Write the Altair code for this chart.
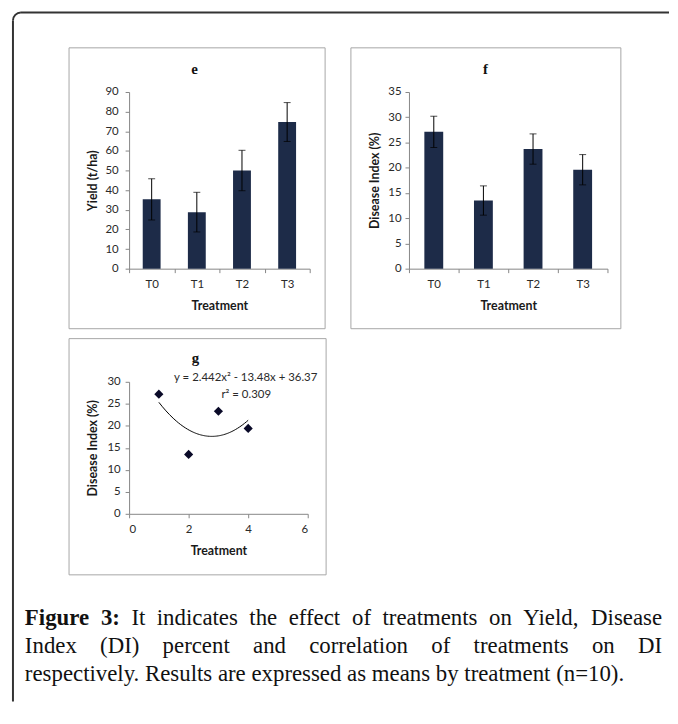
import altair as alt
import pandas as pd

# ---------------- data ----------------
treatments = ["T0", "T1", "T2", "T3"]
yield_mean = [35.3, 28.8, 50.0, 74.7]
yield_err = [10.5, 10.1, 10.3, 9.9]
di_mean = [27.1, 13.5, 23.7, 19.6]
di_err = [3.1, 2.9, 3.0, 3.0]
g_x = [1, 2, 3, 4]
g_y = [27.2, 13.5, 23.3, 19.4]
yield_ticks = [0, 10, 20, 30, 40, 50, 60, 70, 80, 90]
di_ticks = [0, 5, 10, 15, 20, 25, 30, 35]
g_y_ticks = [0, 5, 10, 15, 20, 25, 30]
g_x_ticks = [0, 2, 4, 6]
panel_titles = ["e", "f", "g"]
fit_text = ["y = 2.442x² - 13.48x + 36.37", "r² = 0.309"]
caption_line1 = [("Figure", True), ("3:", True), ("It", False), ("indicates", False),
                 ("the", False), ("effect", False), ("of", False), ("treatments", False),
                 ("on", False), ("Yield,", False), ("Disease", False)]
caption_line2 = ["Index", "(DI)", "percent", "and", "correlation", "of", "treatments", "on", "DI"]
caption_line3 = "respectively. Results are expressed as means by treatment (n=10)."

# ---------------- style ----------------
FONT = "Lato"
SERIF = "Liberation Serif"
BAR = "#1d2b48"
AXC = "#868686"
LAB = "#2a2a2a"
BOXC = "#a6a6a6"
one = pd.DataFrame({"k": [0]})

# origins of each panel's plot area in page pixels
E0 = (130, 90)
F0 = (412, 90)
G0 = (130, 382)
C0 = (412, 382)


def axis_common(**kw):
    base = dict(grid=False, domainColor=AXC, tickColor=AXC, tickSize=4,
                labelFont=FONT, labelFontSize=11.5, labelColor=LAB,
                titleFont=FONT, titleFontSize=12.5, titleFontWeight="bold",
                titleColor="#1a1a1a", titleBaseline="middle")
    base.update(kw)
    return alt.Axis(**base)


def box_layer(x1, y1, x2, y2):
    return alt.Chart(one).mark_rect(fillOpacity=0, stroke=BOXC, strokeWidth=1).encode(
        x=alt.value(x1), x2=alt.value(x2), y=alt.value(y1), y2=alt.value(y2))


def title_layer(txt, x, y):
    return alt.Chart(one).mark_text(text=txt, font=SERIF, fontSize=15, fontWeight="bold",
                                    color="#111111", baseline="middle").encode(
        x=alt.value(x), y=alt.value(y))


def bar_panel(values, errs, ticks, ytitle, width, height, bar_w, ylab_pad, ytitle_x,
              title, title_xy, box):
    df = pd.DataFrame({"t": treatments, "v": values, "e": errs})
    base = alt.Chart(df).transform_calculate(lo="datum.v - datum.e", hi="datum.v + datum.e")
    xs = alt.Scale(paddingInner=0, paddingOuter=0)
    xax = axis_common(title="Treatment", tickBand="extent", labelAngle=0,
                      labelPadding=6, titleY=37)
    ys = alt.Scale(domain=[ticks[0], ticks[-1]], nice=False, zero=True)
    yax = axis_common(values=ticks, title=ytitle, labelPadding=ylab_pad,
                      titleX=ytitle_x, titleY=height / 2)
    x_main = alt.X("t:N", sort=treatments, scale=xs, axis=xax, title="Treatment")
    bars = base.mark_bar(width=bar_w, color=BAR).encode(
        x=x_main, y=alt.Y("v:Q", scale=ys, axis=yax, title=ytitle))
    rule = base.mark_rule(color="black", strokeWidth=1).encode(
        x=x_main, y=alt.Y("lo:Q", scale=ys, axis=yax, title=ytitle), y2="hi:Q")
    cap_lo = base.mark_tick(color="black", size=7, thickness=1).encode(
        x=x_main, y=alt.Y("lo:Q", scale=ys, axis=yax, title=ytitle))
    cap_hi = base.mark_tick(color="black", size=7, thickness=1).encode(
        x=x_main, y=alt.Y("hi:Q", scale=ys, axis=yax, title=ytitle))
    return alt.layer(bars, rule, cap_lo, cap_hi, box_layer(*box),
                     title_layer(title, *title_xy)).properties(width=width, height=height)


def rel(p, o):
    return (p[0] - o[0], p[1] - o[1])


# panel e
e_box = (69 - E0[0] + 0.5, 45 - E0[1] + 0.5, 327 - E0[0] + 0.5, 328 - E0[1] + 0.5)
e = bar_panel(yield_mean, yield_err, yield_ticks, "Yield  (t/ha)", 182, 178, 18, 7, -37,
              panel_titles[0], rel((196, 67), E0), e_box)

# panel f
f_box = (353 - F0[0] + 0.5, 45 - F0[1] + 0.5, 625 - F0[0] + 0.5, 328 - F0[1] + 0.5)
f = bar_panel(di_mean, di_err, di_ticks, "Disease Index  (%)", 200, 178, 19, 4, -35,
              panel_titles[1], rel((489, 67), F0), f_box)

# panel g
gdf = pd.DataFrame({"x": g_x, "y": g_y})
gxs = alt.Scale(domain=[0, 6], nice=False)
gys = alt.Scale(domain=[0, 30], nice=False)
gxax = axis_common(values=g_x_ticks, title="Treatment", labelPadding=6, titleY=37)
gyax = axis_common(values=g_y_ticks, title="Disease Index (%)", labelPadding=5,
                   titleX=-37, titleY=133 / 2)
gx = alt.X("x:Q", scale=gxs, axis=gxax, title="Treatment")
gy = alt.Y("y:Q", scale=gys, axis=gyax, title="Disease Index (%)")
pts = alt.Chart(gdf).mark_point(shape="diamond", filled=True, size=85, color="#0a0a28",
                                opacity=1).encode(x=gx, y=gy)
fit = alt.Chart(gdf).transform_regression("x", "y", method="poly", order=2, extent=[1, 4]).mark_line(
    color="black", strokeWidth=1).encode(x=gx, y=gy)
eq1 = alt.Chart(one).mark_text(text=fit_text[0], font=FONT, fontSize=11.5, color=LAB,
                               baseline="middle").encode(
    x=alt.value(rel((247.5, 378), G0)[0]), y=alt.value(rel((247.5, 378), G0)[1]))
eq2 = alt.Chart(one).mark_text(text=fit_text[1], font=FONT, fontSize=11.5, color=LAB,
                               baseline="middle").encode(
    x=alt.value(rel((248, 395), G0)[0]), y=alt.value(rel((248, 395), G0)[1]))
g_box = (69 - G0[0] + 0.5, 338 - G0[1] + 0.5, 328 - G0[0] + 0.5, 576 - G0[1] + 0.5)
g = alt.layer(fit, pts, box_layer(*g_box), eq1, eq2,
              title_layer(panel_titles[2], *rel((197, 358), G0))).properties(width=180, height=133)

# ---------------- caption (justified word layout, Times metrics) ----------------
FS = 23
REG = {" ": 250, "(": 333, ")": 333, ",": 250, ".": 250, ":": 278, "=": 564,
       "D": 722, "I": 333, "R": 667, "Y": 722, "F": 556,
       "a": 444, "b": 500, "c": 444, "d": 500, "e": 444, "f": 333, "g": 500, "h": 500,
       "i": 278, "l": 278, "m": 778, "n": 500, "o": 500, "p": 500, "r": 333, "s": 389,
       "t": 278, "u": 500, "v": 500, "x": 500, "y": 500}
BOLD = {"F": 611, "i": 278, "g": 500, "u": 556, "r": 444, "e": 444, "3": 500, ":": 333}


def wwidth(w, bold):
    tab = BOLD if bold else REG
    return sum(tab.get(ch, 500) for ch in w) * FS / 1000.0


def justify(words, x0, x1):
    ws = [wwidth(w, b) for w, b in words]
    gap = (x1 - x0 - sum(ws)) / (len(words) - 1)
    xs, cur = [], x0
    for wd in ws:
        xs.append(cur)
        cur += wd + gap
    return xs


rows = []
l1 = caption_line1
for (w, b), xx in zip(l1, justify(l1, 25, 667)):
    rows.append({"w": w, "bold": b, "px": xx - C0[0], "py": 627 - C0[1]})
l2 = [(w, False) for w in caption_line2]
for (w, b), xx in zip(l2, justify(l2, 25, 667)):
    rows.append({"w": w, "bold": b, "px": xx - C0[0], "py": 655 - C0[1]})
rows.append({"w": caption_line3, "bold": False, "px": 25 - C0[0], "py": 683 - C0[1]})
cdf = pd.DataFrame(rows)

cap_base = alt.Chart(cdf)
cap_reg = cap_base.transform_filter("!datum.bold").mark_text(
    font=SERIF, fontSize=FS, align="left", baseline="alphabetic", color="#111111").encode(
    x=alt.X("px:Q", scale=None, axis=None), y=alt.Y("py:Q", scale=None, axis=None), text="w:N")
cap_bold = cap_base.transform_filter("datum.bold").mark_text(
    font=SERIF, fontSize=FS, fontWeight="bold", align="left", baseline="alphabetic",
    color="#111111").encode(
    x=alt.X("px:Q", scale=None, axis=None), y=alt.Y("py:Q", scale=None, axis=None), text="w:N")

# outer frame (top + left edges with a rounded corner)
R = 8
FR = "#333333"
top_rule = alt.Chart(one).mark_rule(color=FR, strokeWidth=2).encode(
    x=alt.value(13 + R - C0[0]), x2=alt.value(674 - C0[0]), y=alt.value(10 - C0[1]))
left_rule = alt.Chart(one).mark_rule(color=FR, strokeWidth=2).encode(
    x=alt.value(13 - C0[0]), y=alt.value(10 + R - C0[1]), y2=alt.value(704 - C0[1]))
corner = alt.Chart(one).mark_arc(color=FR, theta=4.7124, theta2=6.2832,
                                 radius=R + 1, radius2=R - 1).encode(
    x=alt.value(13 + R - C0[0]), y=alt.value(10 + R - C0[1]))

cap = alt.layer(top_rule, left_rule, corner, cap_reg, cap_bold).properties(width=1, height=1)

chart = alt.concat(e, f, g, cap, columns=2, spacing={"row": 114, "column": 100},
                   bounds="flush", align="each").properties(
    padding={"left": 4, "top": 1, "right": 0, "bottom": 0},
    background="white").configure_view(stroke=None)

chart.save("out.html", embed_options={"renderer": "svg", "actions": False})
